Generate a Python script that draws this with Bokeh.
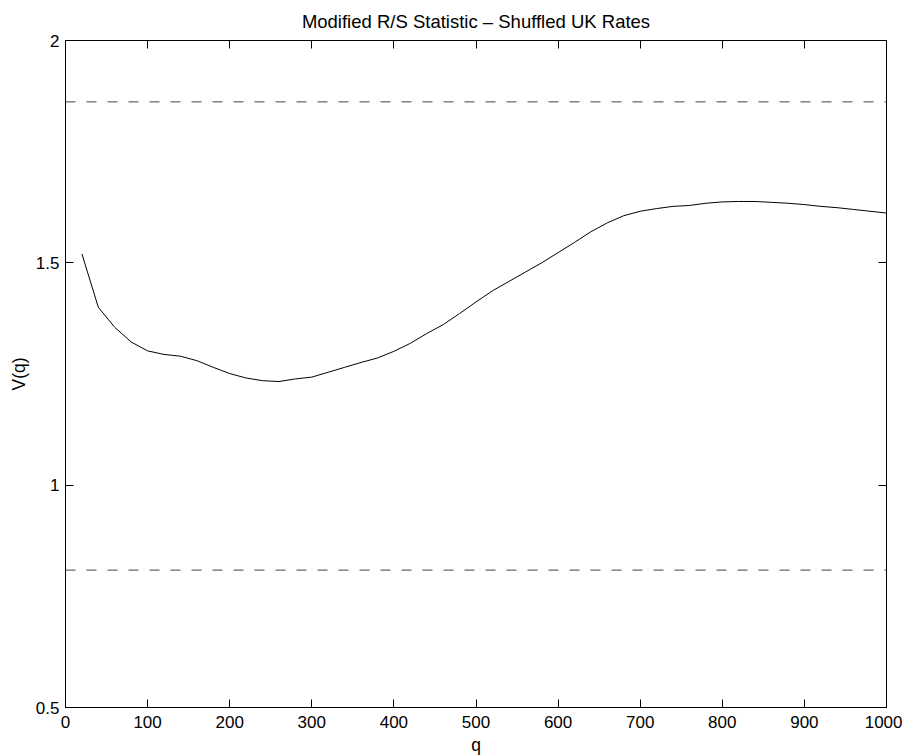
from bokeh.plotting import figure
from bokeh.models import Range1d, FixedTicker, LinearAxis, Span
from bokeh.embed import file_html
from bokeh.resources import INLINE

# ---- data ----
q_values = [20, 40, 60, 80, 100, 120, 140, 160, 180, 200,
            220, 240, 260, 280, 300, 320, 340, 360, 380, 400,
            420, 440, 460, 480, 500, 520, 540, 560, 580, 600,
            620, 640, 660, 680, 700, 720, 740, 760, 780, 800,
            820, 840, 860, 880, 900, 920, 940, 960, 980, 1000]
v_values = [1.520, 1.400, 1.355, 1.322, 1.302, 1.294, 1.290, 1.280, 1.265, 1.251,
            1.241, 1.235, 1.233, 1.239, 1.243, 1.254, 1.265, 1.276, 1.286, 1.301,
            1.319, 1.341, 1.361, 1.386, 1.412, 1.437, 1.458, 1.479, 1.500, 1.523,
            1.546, 1.570, 1.590, 1.606, 1.616, 1.622, 1.627, 1.629, 1.634, 1.637,
            1.638, 1.638, 1.636, 1.634, 1.631, 1.627, 1.624, 1.620, 1.616, 1.612]
conf_bounds = [0.809, 1.862]
x_ticks = [0, 100, 200, 300, 400, 500, 600, 700, 800, 900, 1000]
y_ticks = [0.5, 1, 1.5, 2]
y_tick_labels = ["0.5", "1", "1.5", "2"]
title_text = "Modified R/S Statistic \u2013 Shuffled UK Rates"
x_label = "q"
y_label = "V(q)"

FONT = "Liberation Sans"

p = figure(frame_width=821, frame_height=667,
           x_range=Range1d(0, 1000), y_range=Range1d(0.5, 2),
           output_backend="svg", toolbar_location=None,
           min_border_left=65, min_border_top=39, min_border_right=16,
           min_border_bottom=40,
           title=title_text)

p.title.align = "center"
p.title.text_font = FONT
p.title.text_font_size = "18.5px"
p.title.text_font_style = "normal"
p.title.text_color = "black"
p.title.standoff = 17

p.grid.visible = False
p.outline_line_color = "black"
p.outline_line_width = 1
p.background_fill_color = "white"
p.border_fill_color = "white"

p.xaxis.ticker = FixedTicker(ticks=x_ticks)
p.yaxis.ticker = FixedTicker(ticks=y_ticks)
p.yaxis.major_label_overrides = {t: s for t, s in zip(y_ticks, y_tick_labels)}
p.xaxis.axis_label = x_label
p.yaxis.axis_label = y_label

for ax in (p.xaxis[0], p.yaxis[0]):
    ax.major_tick_in = 8
    ax.major_tick_out = 0
    ax.minor_tick_line_color = None
    ax.axis_line_color = "black"
    ax.major_tick_line_color = "black"
    ax.major_label_text_font = FONT
    ax.major_label_text_font_size = "17px"
    ax.major_label_text_color = "black"
    ax.axis_label_text_font = FONT
    ax.axis_label_text_font_size = "17.5px"
    ax.axis_label_text_font_style = "normal"
    ax.axis_label_text_color = "black"
p.xaxis.major_label_standoff = 8
p.xaxis.axis_label_standoff = 4
p.yaxis.major_label_standoff = 6
p.yaxis.axis_label_standoff = 4

# mirrored tick axes (box on), labels not drawn
top_ax = LinearAxis(ticker=FixedTicker(ticks=x_ticks))
right_ax = LinearAxis(ticker=FixedTicker(ticks=y_ticks))
for ax in (top_ax, right_ax):
    ax.major_tick_in = 8
    ax.major_tick_out = 0
    ax.minor_tick_line_color = None
    ax.axis_line_color = "black"
    ax.major_tick_line_color = "black"
    ax.major_label_text_font_size = "1px"
    ax.major_label_text_color = None
    ax.major_label_standoff = 0
p.add_layout(top_ax, "above")
p.add_layout(right_ax, "right")

for b in conf_bounds:
    p.add_layout(Span(location=b, dimension="width", line_color="#444444",
                      line_width=1, line_dash="10 11"))

p.line(q_values, v_values, line_color="black", line_width=1)

open("out.html", "w").write(file_html(p, INLINE))
